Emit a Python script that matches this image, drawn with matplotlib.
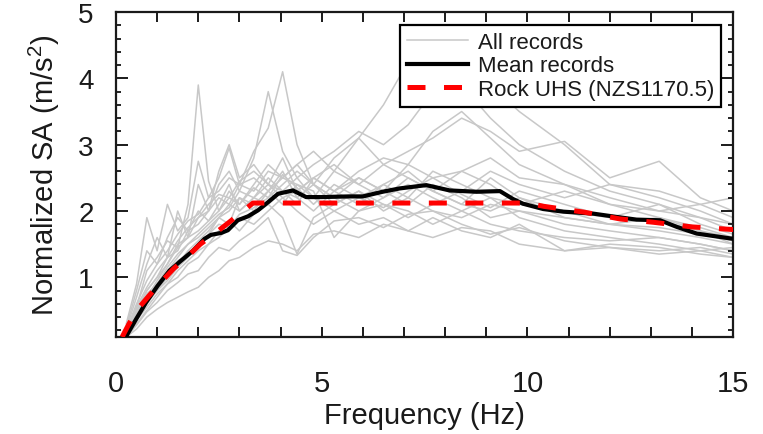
import matplotlib
matplotlib.use("Agg")
import matplotlib.pyplot as plt
from matplotlib.ticker import MultipleLocator, FixedLocator

plt.rcParams["font.family"] = ["Liberation Sans", "DejaVu Sans"]
plt.rcParams["mathtext.fontset"] = "custom"
plt.rcParams["mathtext.rm"] = "Liberation Sans"

# Frequencies (Hz) at which each record's spectral acceleration is sampled
rec_freq = [0.25, 0.5, 0.75, 1.0, 1.25, 1.5, 1.75, 2.0, 2.25, 2.5, 2.75, 3.0,
            3.35, 3.7, 4.05, 4.4, 4.8, 5.3, 5.9, 6.5, 7.1, 7.7, 8.4, 9.1,
            9.8, 10.9, 12.0, 13.2, 14.2, 15.0]

# Normalized SA of the individual ground-motion records (m/s^2)
rec01 = [0.15, 0.55, 1.10, 1.30, 1.55, 1.45, 2.10, 3.90, 2.45, 2.00, 2.30, 2.10, 2.35, 2.20, 2.55, 2.35, 2.10, 2.40, 2.20, 2.05, 2.30, 2.50, 2.25, 2.05, 2.30, 2.10, 1.90, 1.85, 1.70, 1.60]
rec02 = [0.20, 0.60, 0.95, 1.20, 1.40, 1.65, 1.85, 1.95, 2.20, 2.30, 2.50, 2.40, 2.90, 3.25, 4.10, 3.00, 2.40, 2.20, 2.50, 2.30, 2.10, 2.40, 2.20, 1.90, 2.00, 1.80, 1.70, 1.60, 1.50, 1.40]
rec03 = [0.10, 0.40, 0.70, 0.95, 1.20, 1.50, 1.60, 1.90, 2.00, 2.40, 2.60, 2.30, 2.80, 3.80, 2.90, 2.50, 2.20, 2.00, 2.20, 2.40, 2.60, 2.30, 2.10, 2.50, 2.20, 2.00, 1.80, 1.90, 1.70, 1.50]
rec04 = [0.20, 0.50, 0.80, 1.00, 1.30, 1.40, 1.70, 1.80, 2.00, 2.20, 2.10, 2.40, 2.30, 2.60, 2.50, 2.70, 2.40, 2.80, 3.10, 3.60, 4.25, 4.40, 3.90, 3.40, 3.00, 2.60, 2.30, 2.10, 1.90, 1.80]
rec05 = [0.12, 0.35, 0.60, 0.80, 1.00, 1.20, 1.40, 1.55, 1.70, 1.90, 2.10, 2.00, 2.20, 2.40, 2.30, 2.50, 2.70, 2.90, 3.20, 3.00, 3.30, 3.80, 3.70, 3.90, 3.50, 3.00, 2.40, 2.20, 2.00, 1.80]
rec06 = [0.18, 0.45, 0.75, 0.90, 1.10, 1.30, 1.50, 1.60, 1.75, 1.90, 2.00, 2.20, 2.10, 2.30, 2.50, 2.40, 2.20, 2.60, 2.40, 2.70, 2.90, 3.10, 3.40, 3.20, 2.90, 3.05, 2.50, 2.75, 2.20, 2.00]
rec07 = [0.10, 0.22, 0.40, 0.52, 0.62, 0.70, 0.78, 0.85, 1.00, 1.10, 1.25, 1.30, 1.45, 1.55, 1.50, 1.40, 1.65, 1.70, 1.60, 1.80, 1.70, 1.60, 1.75, 1.70, 1.50, 1.40, 1.50, 1.45, 1.35, 1.30]
rec08 = [0.10, 0.28, 0.48, 0.62, 0.80, 0.92, 1.05, 1.10, 1.30, 1.45, 1.40, 1.55, 1.70, 1.90, 1.40, 1.33, 1.60, 1.85, 1.90, 1.75, 1.95, 2.00, 1.80, 1.65, 1.75, 1.55, 1.45, 1.40, 1.45, 1.35]
rec09 = [0.30, 0.90, 1.90, 1.40, 2.10, 1.70, 1.90, 2.75, 2.20, 2.50, 2.95, 2.40, 2.50, 2.30, 2.60, 2.20, 2.40, 2.10, 2.30, 2.00, 2.20, 2.00, 1.90, 2.10, 2.00, 1.90, 1.80, 1.70, 1.60, 1.50]
rec10 = [0.25, 0.80, 1.40, 1.20, 1.60, 1.90, 1.70, 2.00, 1.85, 2.10, 2.40, 2.00, 2.20, 2.50, 2.30, 2.10, 2.50, 2.30, 2.10, 2.40, 2.20, 2.60, 2.40, 2.20, 2.10, 2.30, 2.10, 2.00, 1.90, 1.70]
rec11 = [0.15, 0.45, 0.70, 0.85, 1.05, 1.25, 1.35, 1.45, 1.65, 1.80, 1.75, 1.95, 2.05, 2.20, 2.40, 2.60, 2.40, 2.20, 2.00, 2.10, 1.90, 2.10, 2.30, 2.60, 2.40, 2.20, 2.40, 2.30, 2.10, 2.20]
rec12 = [0.20, 0.55, 0.85, 1.10, 1.30, 1.55, 1.75, 1.90, 2.10, 2.25, 2.20, 2.45, 2.60, 2.40, 2.20, 2.30, 2.50, 2.30, 2.60, 2.80, 2.70, 2.50, 2.60, 2.80, 2.50, 2.40, 2.20, 2.00, 2.10, 1.90]
rec13 = [0.10, 0.35, 0.55, 0.75, 0.90, 1.10, 1.25, 1.40, 1.50, 1.70, 1.85, 1.70, 1.95, 2.10, 1.90, 1.35, 1.90, 2.10, 2.30, 2.10, 2.00, 1.80, 2.00, 1.80, 1.70, 1.60, 1.55, 1.60, 1.50, 1.40]
rec14 = [0.12, 0.40, 0.65, 0.80, 0.95, 1.15, 1.30, 1.50, 1.65, 1.90, 1.80, 2.20, 2.00, 2.30, 2.10, 2.40, 2.30, 1.60, 2.00, 2.20, 2.40, 2.20, 2.00, 2.20, 1.90, 1.70, 1.60, 1.50, 1.40, 1.45]
rec15 = [0.18, 0.50, 0.80, 1.00, 1.20, 1.45, 1.60, 1.70, 1.85, 2.00, 2.20, 2.10, 2.40, 2.70, 2.50, 2.70, 2.90, 2.60, 3.10, 2.70, 2.50, 2.30, 2.10, 2.00, 2.20, 1.90, 1.80, 1.75, 1.65, 1.55]
rec16 = [0.15, 0.45, 0.70, 0.90, 1.15, 1.35, 1.50, 1.65, 1.80, 1.95, 2.05, 2.30, 2.20, 2.10, 2.30, 2.20, 2.00, 2.30, 2.50, 2.30, 2.70, 3.20, 3.50, 3.10, 2.70, 2.40, 2.10, 1.90, 1.75, 1.60]
rec17 = [0.10, 0.30, 0.50, 0.70, 0.90, 1.00, 1.20, 1.30, 1.50, 1.60, 1.75, 1.90, 1.80, 2.00, 2.20, 2.00, 1.80, 2.00, 1.80, 1.90, 1.70, 1.90, 1.70, 1.60, 1.80, 1.40, 1.45, 1.35, 1.40, 1.30]
rec18 = [0.22, 0.70, 1.20, 1.60, 1.30, 2.00, 1.60, 2.40, 2.00, 2.60, 3.00, 2.50, 2.70, 2.40, 2.80, 2.30, 2.50, 2.70, 2.40, 2.20, 2.50, 2.30, 2.60, 2.40, 2.10, 2.00, 1.90, 2.10, 1.80, 1.65]

records = [rec01, rec02, rec03, rec04, rec05, rec06, rec07, rec08, rec09,
           rec10, rec11, rec12, rec13, rec14, rec15, rec16, rec17, rec18]

# Mean of the records
mean_freq = [0.24, 0.49, 0.73, 1.01, 1.30, 1.58, 1.87, 2.15, 2.31, 2.56, 2.72, 2.96,
             3.21, 3.45, 3.69, 3.94, 4.30, 4.62, 5.00, 5.67, 6.00, 6.48, 6.89, 7.54,
             8.11, 8.76, 9.33, 9.65, 9.89, 10.38, 10.87, 11.60, 12.17, 12.65, 13.22,
             13.63, 14.11, 15.0]
mean_sa = [0.10, 0.37, 0.62, 0.87, 1.10, 1.25, 1.40, 1.58, 1.64, 1.67, 1.71, 1.86,
           1.92, 2.01, 2.13, 2.26, 2.31, 2.21, 2.21, 2.22, 2.22, 2.29, 2.34, 2.39,
           2.31, 2.29, 2.30, 2.18, 2.11, 2.03, 1.99, 1.96, 1.91, 1.87, 1.86,
           1.76, 1.66, 1.58]

# Rock uniform hazard spectrum (NZS1170.5)
uhs_freq = [0.15, 0.3, 0.5, 0.8, 1.1, 1.4, 1.75, 2.05, 2.4, 2.75, 3.05, 3.33,
            10.0, 10.4, 11.4, 12.25, 13.06, 14.0, 15.0]
uhs_sa = [0.10, 0.28, 0.50, 0.72, 0.93, 1.13, 1.32, 1.50, 1.66, 1.83, 1.98, 2.12,
          2.12, 2.07, 1.98, 1.88, 1.83, 1.76, 1.72]

fig = plt.figure(figsize=(7.63, 4.35), dpi=100)
ax = fig.add_axes([0.152, 0.223, 0.809, 0.747])

for i, rec in enumerate(records):
    ax.plot(rec_freq, rec, color="#c8c8c8", lw=1.1,
            label="All records" if i == 0 else None, zorder=1)
ax.plot(mean_freq, mean_sa, color="black", lw=3.0, label="Mean records",
        solid_joinstyle="round", zorder=3)
ax.plot(uhs_freq, uhs_sa, color="#ff0000", lw=3.6, dashes=(3.6, 3.7),
        label="Rock UHS (NZS1170.5)", zorder=4)

ax.set_xlim(0, 15)
ax.set_ylim(0.1, 5)

ax.xaxis.set_major_locator(FixedLocator([0, 5, 10, 15]))
ax.xaxis.set_minor_locator(MultipleLocator(1))
ax.yaxis.set_major_locator(FixedLocator([1, 2, 3, 4, 5]))
ax.yaxis.set_minor_locator(MultipleLocator(0.2))

ax.tick_params(axis="x", which="both", direction="in", top=True, bottom=True,
               length=7, width=1.4, labelsize=21, pad=23, colors="#1a1a1a")
ax.tick_params(axis="y", which="major", direction="in", left=True, right=True,
               length=8.5, width=1.4, labelsize=20, pad=16, colors="#1a1a1a")
ax.tick_params(axis="y", which="minor", direction="in", left=True, right=True,
               length=3.8, width=1.2)

for sp in ax.spines.values():
    sp.set_linewidth(1.6)
    sp.set_color("#1a1a1a")

ax.set_xlabel("Frequency (Hz)", fontsize=21, labelpad=3, color="#1a1a1a")
ax.set_ylabel("Normalized SA (m/s$^2$)", fontsize=21, labelpad=12, color="#1a1a1a")

leg = ax.legend(loc="upper right", bbox_to_anchor=(0.9805, 0.96), borderaxespad=0,
                fontsize=16, frameon=True, fancybox=False, framealpha=1,
                edgecolor="black", handlelength=2.75, handletextpad=0.45,
                labelspacing=0.12, borderpad=0.3)
leg.get_frame().set_linewidth(1.6)
for t in leg.get_texts():
    t.set_color("#1a1a1a")

fig.savefig("out.png", dpi=100)
